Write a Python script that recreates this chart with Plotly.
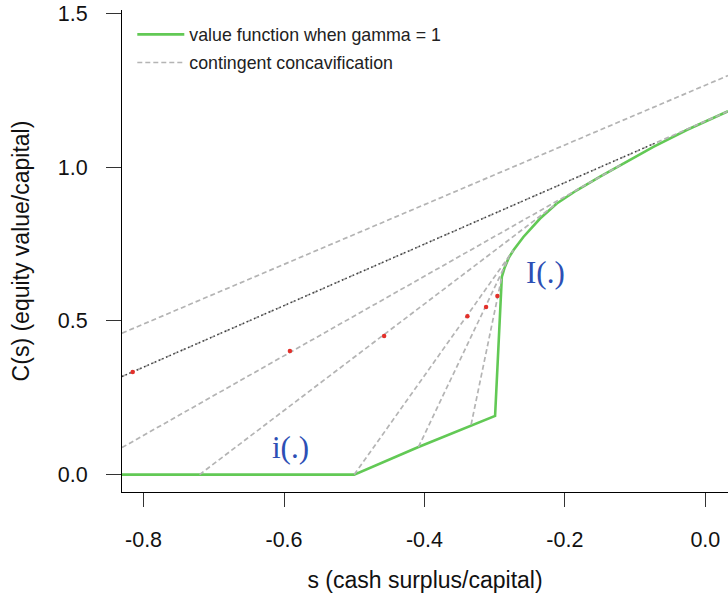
import plotly.graph_objects as go

# ---- data ----
value_x = [-0.8307, -0.5, -0.4085, -0.2994, -0.2898, -0.2860, -0.2800, -0.2733, -0.2591,
           -0.2353, -0.2115, -0.1831, -0.1499, -0.1167, -0.0954, -0.0740, -0.0265, 0.0323]
value_y = [0.0, 0.0, 0.0898, 0.1908, 0.643, 0.672, 0.705, 0.730, 0.773,
           0.833, 0.882, 0.925, 0.969, 1.012, 1.039, 1.066, 1.121, 1.182]

# contingent concavification segments (start -> end)
conc_x0 = [-0.8307, -0.8307, -0.8307, -0.7203, -0.5000, -0.4085, -0.3335]
conc_y0 = [0.460, 0.319, 0.0879, 0.0, 0.0, 0.0898, 0.1628]
conc_x1 = [0.0323, 0.0323, -0.1167, -0.2115, -0.2733, -0.2800, -0.2898]
conc_y1 = [1.298, 1.182, 1.012, 0.882, 0.730, 0.705, 0.643]

# dark dotted overlay on the second line
dark_x = [-0.8307, -0.070]
dark_y = [0.319, 1.080]

# red points
dot_x = [-0.8155, -0.5916, -0.4574, -0.3388, -0.3122, -0.2961]
dot_y = [0.334, 0.4017, 0.451, 0.515, 0.5456, 0.5814]

x_ticks = [-0.8, -0.6, -0.4, -0.2, 0.0]
x_ticktext = ["-0.8", "-0.6", "-0.4", "-0.2", "0.0"]
y_ticks = [0.0, 0.5, 1.0, 1.5]
y_ticktext = ["0.0", "0.5", "1.0", "1.5"]

GREEN = "#62c955"
GRAY = "#b4b4b4"
FONT = "Liberation Sans, Arial, Helvetica, sans-serif"

fig = go.Figure()

fig.add_trace(go.Scatter(
    x=value_x, y=value_y, mode="lines",
    line=dict(color=GREEN, width=2.6),
    name="value function when gamma = 1",
    legendgroup="a", legendrank=1, hoverinfo="skip"))

for i in range(len(conc_x0)):
    fig.add_trace(go.Scatter(
        x=[conc_x0[i], conc_x1[i]], y=[conc_y0[i], conc_y1[i]], mode="lines",
        line=dict(color=GRAY, width=1.7, dash="5px,3px"),
        name="contingent concavification",
        legendgroup="b", legendrank=2, showlegend=(i == 0), hoverinfo="skip"))

fig.add_trace(go.Scatter(
    x=dark_x, y=dark_y, mode="lines",
    line=dict(color="rgba(30,30,30,0.8)", width=1.4, dash="1.5px,2.5px"),
    showlegend=False, hoverinfo="skip"))

fig.add_trace(go.Scatter(
    x=dot_x, y=dot_y, mode="markers",
    marker=dict(color="#e3302a", size=4.5, line=dict(width=0)),
    showlegend=False, hoverinfo="skip"))

fig.add_annotation(x=-0.228, y=0.658, text="I(.)", showarrow=False,
                   font=dict(family="Liberation Serif, Times New Roman, serif", size=31, color="#2d4fb5"))
fig.add_annotation(x=-0.5912, y=0.089, text="i(.)", showarrow=False,
                   font=dict(family="Liberation Serif, Times New Roman, serif", size=31, color="#2d4fb5"))

fig.update_layout(
    width=728, height=597,
    margin=dict(l=122, r=0, t=10, b=105),
    paper_bgcolor="white", plot_bgcolor="white",
    font=dict(family=FONT, color="#111"),
    legend=dict(x=0.017, y=0.987, xanchor="left", yanchor="top",
                font=dict(size=17.8, family=FONT, color="#222"),
                bgcolor="rgba(0,0,0,0)", tracegroupgap=2, itemwidth=47),
    xaxis=dict(range=[-0.8307, 0.0323], showgrid=False, zeroline=False,
               showline=True, linecolor="black", linewidth=1.2,
               ticks="outside", ticklen=14, tickwidth=1.2, tickcolor="#333",
               tickvals=x_ticks, ticktext=x_ticktext,
               tickfont=dict(size=21.5), ticklabelstandoff=14,
               title=dict(text="s (cash surplus/capital)", font=dict(size=23), standoff=20)),
    yaxis=dict(range=[-0.0566, 1.5114], showgrid=False, zeroline=False,
               showline=True, linecolor="black", linewidth=1.2,
               ticks="outside", ticklen=15, tickwidth=1.2, tickcolor="#333",
               tickvals=y_ticks, ticktext=y_ticktext,
               tickfont=dict(size=21.5), ticklabelstandoff=14,
               title=dict(text="C(s) (equity value/capital)", font=dict(size=23), standoff=21)),
)

fig.write_html("out.html")
